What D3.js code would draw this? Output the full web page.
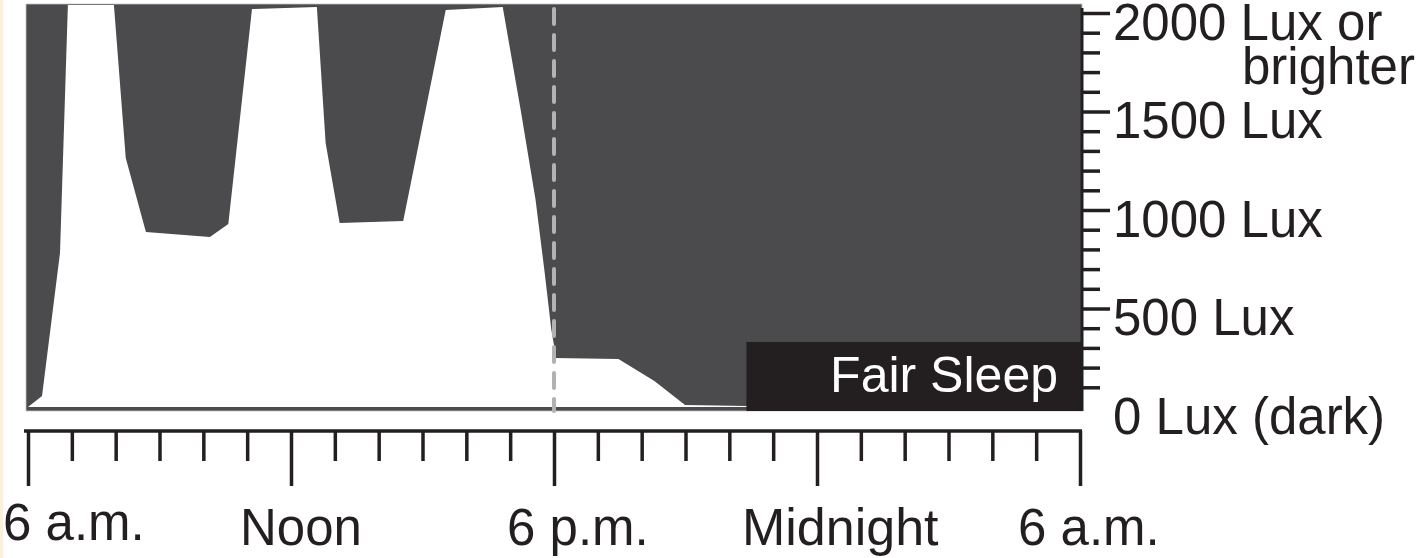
<!DOCTYPE html>
<html>
<head>
<meta charset="utf-8">
<script src="https://cdn.jsdelivr.net/npm/d3@7"></script>
<style>
  body { margin: 0; background: #ffffff; }
  svg { display: block; }
  text { font-family: "Liberation Sans", Arial, Helvetica, sans-serif; fill: #231f20; }
</style>
</head>
<body>
<svg id="chart" width="1421" height="558"></svg>
<script>
// ---- data (hours after 6 a.m., light level in lux) ----
const hours = [0, 0.32, 0.73, 0.91, 1.82, 1.96, 2.23, 2.69, 4.15, 4.57, 5.11, 6.59, 6.79, 7.11, 8.56, 9.53, 10.83, 11.24, 11.58, 11.78, 11.94, 12, 12, 13.47, 14.29, 14.99, 16.39, 18, 24];
const lux   = [0, 56, 782, 2040, 2040, 2040, 1264, 888, 863, 929, 2020, 2030, 1340, 934, 944, 2015, 2030, 1508, 1051, 695, 391, 315, 249, 244, 132, 10, 5, 2, 0];

const timeTicks = d3.range(0, 25);          // hourly ticks
const timeMajor = [0, 6, 12, 18, 24];
const timeLabels = ["6 a.m.", "Noon", "6 p.m.", "Midnight", "6 a.m."];

const luxTicks = d3.range(100, 2001, 100);
const luxMajor = [500, 1000, 1500, 2000];
const luxLabelValues = [2000, 1500, 1000, 500, 0];
const luxLabels = ["2000 Lux or", "1500 Lux", "1000 Lux", "500 Lux", "0 Lux (dark)"];
const luxLabelExtra = "brighter";

const sleepLabel = "Fair Sleep";
const sleepStartHour = 16.39;
const sleepBoxLux = 330;
const dividerHour = 12;

// ---- layout ----
const ink = "#231f20";
const svg = d3.select("#chart");
const x = d3.scaleLinear().domain([0, 24]).range([28, 1080]);
const y = d3.scaleLinear().domain([0, 2000]).range([407, 13]);
const plotTop = 4, plotBottom = 411, plotLeft = 26, plotRight = 1082;
const fontSize = 50;

// cream strip on far left
svg.append("rect").attr("x", 0).attr("y", 0).attr("width", 3).attr("height", 558).attr("fill", "#fcf0dc");

// dark plot background
svg.append("rect")
  .attr("x", plotLeft).attr("y", plotTop)
  .attr("width", plotRight - plotLeft).attr("height", plotBottom - plotTop)
  .attr("fill", "#4b4b4d").attr("stroke", "#c4c4c4").attr("stroke-width", 0.8);

// white light-exposure area
const pts = hours.map((h, i) => [h, lux[i]]);
const area = d3.area().x(d => x(d[0])).y0(y(0)).y1(d => y(d[1])).curve(d3.curveLinear);
svg.append("path").datum(pts).attr("d", area).attr("fill", "#ffffff");

// Fair Sleep box
svg.append("rect")
  .attr("x", x(sleepStartHour)).attr("y", y(sleepBoxLux))
  .attr("width", plotRight - x(sleepStartHour)).attr("height", plotBottom - y(sleepBoxLux))
  .attr("fill", ink);
svg.append("text")
  .attr("x", 1058).attr("y", 392)
  .attr("text-anchor", "end")
  .style("font-size", fontSize + "px")
  .style("fill", "#ffffff")
  .text(sleepLabel);

// dashed 6 p.m. divider
svg.append("line")
  .attr("x1", x(dividerHour)).attr("x2", x(dividerHour))
  .attr("y1", 9).attr("y2", 411)
  .attr("stroke", "#b2b2b2").attr("stroke-width", 4)
  .attr("stroke-dasharray", "15 11").attr("stroke-linecap", "round");

// right axis
const axR = d3.axisRight(y).tickValues(luxTicks).tickFormat("").tickSize(18).tickSizeOuter(0);
const gR = svg.append("g").attr("transform", `translate(${plotRight},0)`).call(axR);
gR.select(".domain").remove();
gR.selectAll(".tick line")
  .attr("x2", d => luxMajor.includes(d) ? 28 : 18)
  .attr("stroke", ink).attr("stroke-width", 3.5);
svg.append("line")
  .attr("x1", plotRight).attr("x2", plotRight)
  .attr("y1", 8).attr("y2", plotBottom)
  .attr("stroke", ink).attr("stroke-width", 3);

luxLabelValues.forEach((v, i) => {
  const t = svg.append("text")
    .attr("x", 1113).attr("y", y(v) + 26.5)
    .style("font-size", "51px");
  t.append("tspan").text(luxLabels[i]);
  if (i === 0) {
    t.append("tspan").attr("x", 1242).attr("dy", 44.5).text(luxLabelExtra);
  }
});

// bottom axis
const axisY = 431;
const axB = d3.axisBottom(x).tickValues(timeTicks).tickFormat("").tickSize(30).tickSizeOuter(0);
const gB = svg.append("g").attr("transform", `translate(0,${axisY})`).call(axB);
gB.select(".domain").remove();
gB.selectAll(".tick line")
  .attr("y2", d => timeMajor.includes(d) ? 55 : 30)
  .attr("stroke", ink).attr("stroke-width", 3.5);
svg.append("line")
  .attr("x1", x(0) - 4).attr("x2", x(24) + 2)
  .attr("y1", axisY).attr("y2", axisY)
  .attr("stroke", ink).attr("stroke-width", 3.5);

const labelDx = [-25, -51, -47, -75, -62];
const labelBase = [540, 545, 545, 545, 545];
const labelSize = [51, 51, 51, 52, 51];
timeMajor.forEach((h, i) => {
  svg.append("text")
    .attr("x", x(h) + labelDx[i]).attr("y", labelBase[i])
    .style("font-size", labelSize[i] + "px")
    .text(timeLabels[i]);
});
</script>
</body>
</html>
